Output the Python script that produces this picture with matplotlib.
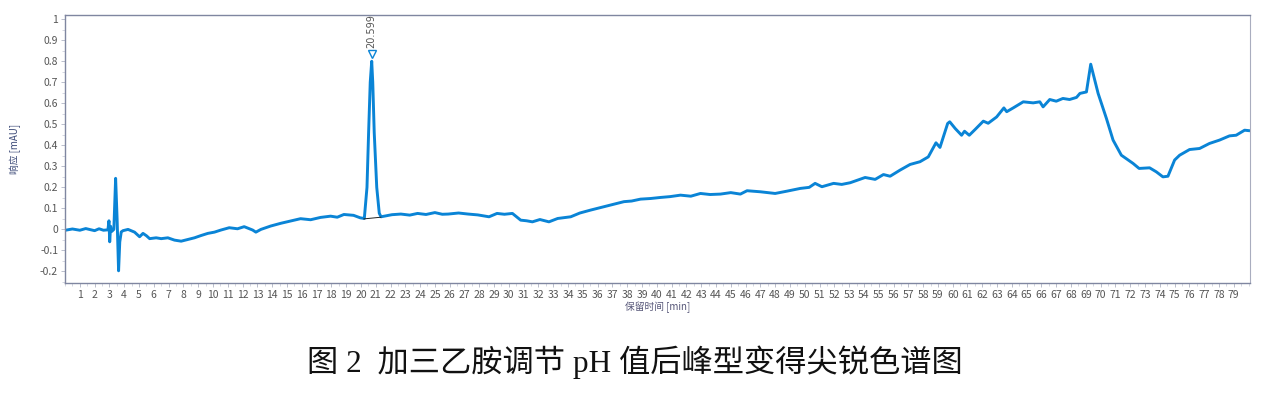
import numpy as np
import matplotlib.pyplot as plt
from matplotlib.ticker import MultipleLocator

# retention time [min] and response [mAU]
time_min = [
    0.1, 0.5, 1.0, 1.4, 2.0, 2.3, 2.6, 2.9, 2.97, 3.02, 3.08, 3.15, 3.3,
    3.42, 3.52, 3.62, 3.70, 3.8, 3.92, 4.26, 4.7, 5.04, 5.27, 5.5, 5.72,
    6.16, 6.5, 6.95, 7.4, 7.85, 8.3, 8.75, 9.2, 9.65, 10.1, 10.54, 11.1,
    11.66, 12.11, 12.68, 12.9, 13.24, 13.9, 14.58, 15.25, 15.92, 16.6,
    17.27, 17.95, 18.4, 18.85, 19.5, 19.96, 20.23, 20.41, 20.52, 20.63,
    20.73, 20.8, 20.9, 21.07, 21.24, 21.36, 21.58, 22.1, 22.7, 23.3, 23.83,
    24.4, 25.0, 25.5, 25.9, 26.6, 27.25, 27.9, 28.66, 29.2, 29.7, 30.24,
    30.8, 31.2, 31.59, 32.1, 32.71, 33.3, 34.18, 34.8, 35.53, 36.2, 36.88,
    37.78, 38.3, 38.9, 39.58, 40.25, 40.9, 41.6, 42.3, 42.95, 43.6, 44.3,
    45.0, 45.65, 46.1, 47.0, 48.0, 48.8, 49.7, 50.3, 50.7, 51.16, 51.95,
    52.5, 53.07, 54.08, 54.76, 55.32, 55.77, 56.44, 57.12, 57.79, 58.35,
    58.87, 59.14, 59.66, 59.8, 60.17, 60.6, 60.8, 61.12, 61.51, 62.07,
    62.4, 62.97, 63.46, 63.65, 64.09, 64.77, 65.44, 65.89, 66.11, 66.56,
    67.0, 67.45, 67.9, 68.37, 68.6, 69.04, 69.33, 69.83, 70.39, 70.84,
    71.4, 72.19, 72.6, 73.31, 73.76, 74.21, 74.55, 75.0, 75.34, 76.01,
    76.69, 77.36, 78.04, 78.71, 79.16, 79.73, 80.0,
]
response_mau = [
    -0.003, 0.002, -0.004, 0.004, -0.006, 0.003, -0.004, -0.002, 0.041,
    -0.059, 0.015, -0.01, 0.0, 0.243, 0.05, -0.197, -0.06, -0.012, -0.006,
    0.0, -0.013, -0.035, -0.019, -0.03, -0.044, -0.04, -0.044, -0.04,
    -0.051, -0.056, -0.048, -0.04, -0.029, -0.019, -0.013, -0.003, 0.008,
    0.003, 0.013, -0.003, -0.013, 0.0, 0.016, 0.029, 0.04, 0.051, 0.046,
    0.057, 0.063, 0.058, 0.071, 0.067, 0.055, 0.052, 0.2, 0.46, 0.70,
    0.80, 0.70, 0.46, 0.2, 0.077, 0.06, 0.063, 0.07, 0.073, 0.068, 0.076,
    0.071, 0.08, 0.072, 0.073, 0.078, 0.073, 0.069, 0.06, 0.076, 0.072,
    0.076, 0.044, 0.041, 0.036, 0.047, 0.036, 0.052, 0.06, 0.078, 0.092,
    0.104, 0.116, 0.132, 0.135, 0.144, 0.147, 0.152, 0.156, 0.163, 0.158,
    0.171, 0.166, 0.168, 0.175, 0.168, 0.184, 0.179, 0.171, 0.182, 0.195,
    0.2, 0.219, 0.203, 0.219, 0.214, 0.222, 0.247, 0.238, 0.261, 0.253,
    0.282, 0.309, 0.322, 0.345, 0.412, 0.39, 0.504, 0.512, 0.48, 0.448,
    0.467, 0.448, 0.475, 0.515, 0.505, 0.535, 0.578, 0.56, 0.578, 0.607,
    0.602, 0.607, 0.583, 0.618, 0.61, 0.623, 0.618, 0.628, 0.647, 0.654,
    0.786, 0.647, 0.528, 0.425, 0.353, 0.314, 0.29, 0.293, 0.274, 0.25,
    0.253, 0.33, 0.353, 0.38, 0.385, 0.409, 0.425, 0.445, 0.448, 0.472,
    0.47,
]

peak_time = 20.73
peak_value = 0.80
peak_label = "20.599"
peak_base_t = [20.2, 21.35]
peak_base_v = [0.050, 0.058]

x_ticks = list(range(1, 80))
y_ticks = [-0.2, -0.1, 0, 0.1, 0.2, 0.3, 0.4, 0.5, 0.6, 0.7, 0.8, 0.9, 1]
y_tick_labels = ["-0.2", "-0.1", "0", "0.1", "0.2", "0.3", "0.4", "0.5",
                 "0.6", "0.7", "0.8", "0.9", "1"]

plt.rcParams['font.family'] = ['Noto Sans CJK SC', 'DejaVu Sans']

fig = plt.figure(figsize=(12.7, 3.93), dpi=100)
ax = fig.add_axes([0.0512, 0.2799, 0.9331, 0.6819])

line_color = '#0a84d6'
ax.plot(time_min, response_mau, color=line_color, lw=2.1, solid_joinstyle='round')
ax.plot(peak_base_t, peak_base_v, color='#222222', lw=0.7)

# peak marker and retention time label
ax.plot([peak_time], [peak_value + 0.035], marker='v', ms=6, mfc='white',
        mec=line_color, mew=1.0, ls='none')
ax.text(peak_time, peak_value + 0.065, peak_label, rotation=90, ha='center',
        va='bottom', fontsize=7, color='#555555', family=['DejaVu Sans'])

ax.set_xlim(0, 80.1)
ax.set_ylim(-0.255, 1.02)

ax.set_xticks(x_ticks)
ax.set_xticklabels([str(t) for t in x_ticks])
ax.xaxis.set_minor_locator(MultipleLocator(0.5))
ax.set_yticks(y_ticks)
ax.set_yticklabels(y_tick_labels)
ax.yaxis.set_minor_locator(MultipleLocator(0.05))

spine_c = '#7f86a0'
for s in ['left', 'bottom', 'top']:
    ax.spines[s].set_color(spine_c)
    ax.spines[s].set_linewidth(1.0)
ax.spines['right'].set_color('#a9adbf')

ax.tick_params(axis='both', which='major', length=3, width=0.6, color='#b0b4c4',
               labelsize=7.5, labelcolor='#555555', pad=2)
ax.tick_params(axis='both', which='minor', length=2, width=0.5, color='#c4c7d4')

ax.set_xlabel("保留时间 [min]", fontsize=7, color='#555577', labelpad=1)
ax.set_ylabel("响应 [mAU]", fontsize=7, color='#3c4a78', labelpad=14)

fig.text(0.5, 0.079, "图 2  加三乙胺调节 pH 值后峰型变得尖锐色谱图",
         ha='center', va='center', fontsize=22.5, color='#111111',
         family=['Liberation Serif', 'Noto Sans CJK SC'])

fig.savefig("out.png", dpi=100)
